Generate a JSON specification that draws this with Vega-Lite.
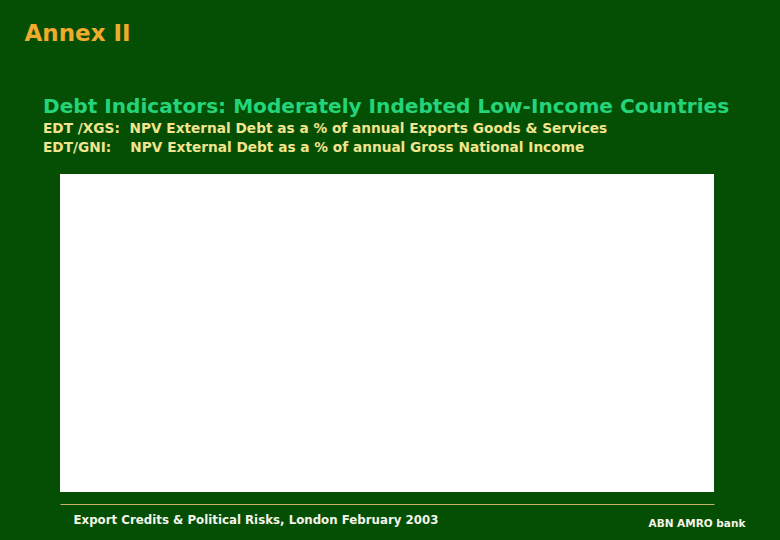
{
  "$schema": "https://vega.github.io/schema/vega-lite/v6.json",
  "autosize": {"type": "none"},
  "width": 654,
  "height": 318,
  "padding": {"left": 60, "top": 174, "right": 66, "bottom": 48},
  "background": "#044f04",
  "title": {
    "text": "Debt Indicators: Moderately Indebted Low-Income Countries",
    "subtitle": [
      "EDT /XGS:\u00a0\u00a0NPV External Debt as a % of annual Exports Goods & Services",
      "EDT/GNI:\u00a0\u00a0\u00a0\u00a0NPV External Debt as a % of annual Gross National Income"
    ],
    "anchor": "start",
    "frame": "group",
    "dx": -17,
    "dy": 151,
    "offset": 18,
    "font": "DejaVu Sans",
    "fontSize": 20.1,
    "fontWeight": "bold",
    "color": "#24d47a",
    "subtitleFont": "DejaVu Sans",
    "subtitleFontSize": 13.7,
    "subtitleFontWeight": "bold",
    "subtitleColor": "#f2e48e",
    "subtitleLineHeight": 19,
    "subtitlePadding": 5
  },
  "config": {
    "view": {"fill": "white", "stroke": null},
    "axis": {
      "labels": false,
      "ticks": false,
      "grid": false,
      "domain": false,
      "titleFont": "DejaVu Sans",
      "titleFontWeight": "bold",
      "titleAngle": 0,
      "titleAlign": "left",
      "titleBaseline": "alphabetic"
    }
  },
  "data": {
    "values": [
      {"indicator": "EDT/XGS", "value": 0},
      {"indicator": "EDT/GNI", "value": 0}
    ]
  },
  "layer": [
    {
      "mark": {"type": "point", "opacity": 0},
      "encoding": {
        "x": {
          "field": "indicator",
          "type": "nominal",
          "axis": {
            "orient": "bottom",
            "domain": true,
            "domainColor": "#c4b464",
            "domainWidth": 1,
            "offset": 12,
            "title": "Export Credits & Political Risks, London February 2003",
            "titleColor": "#f4f4e8",
            "titleFontSize": 11.8,
            "titleX": 13,
            "titleY": 19
          }
        },
        "y": {
          "field": "value",
          "type": "quantitative",
          "axis": {
            "orient": "left",
            "title": "Annex II",
            "titleColor": "#f0aa2c",
            "titleFontSize": 23,
            "titleX": -36,
            "titleY": -134
          }
        }
      }
    },
    {
      "mark": {"type": "point", "opacity": 0},
      "encoding": {
        "x": {"field": "indicator", "type": "nominal"},
        "y": {
          "field": "value",
          "type": "quantitative",
          "axis": {
            "orient": "right",
            "title": "ABN AMRO bank",
            "titleColor": "#f4f4e8",
            "titleFontSize": 10.5,
            "titleX": -66,
            "titleY": 352
          }
        }
      }
    }
  ],
  "resolve": {"scale": {"y": "independent"}, "axis": {"y": "independent"}}
}
